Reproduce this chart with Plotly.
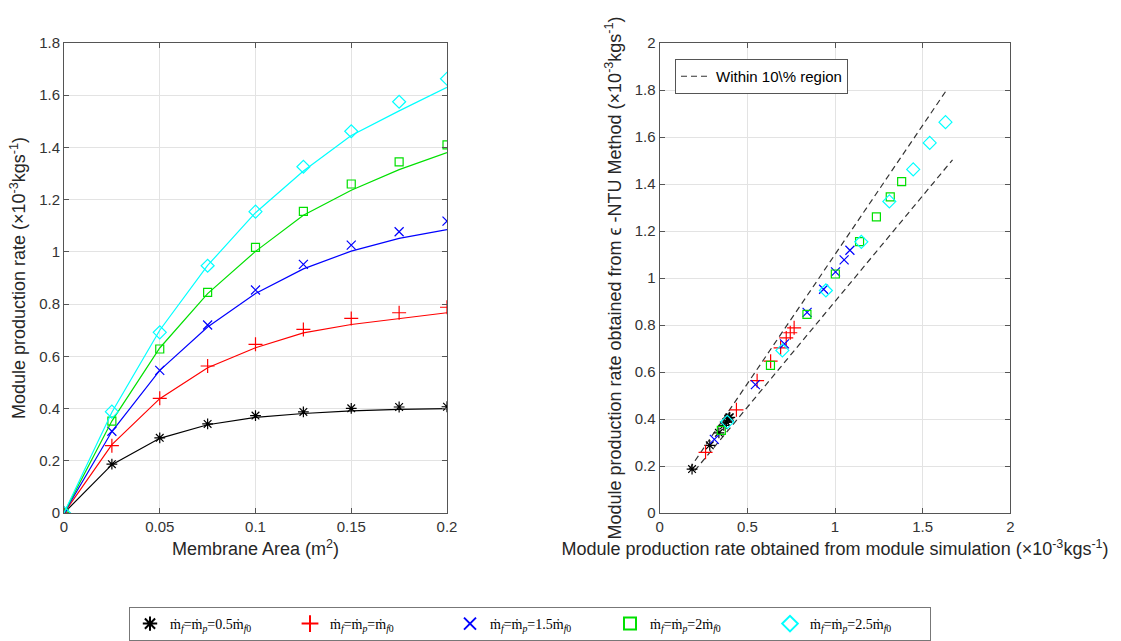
import plotly.graph_objects as go

# Membrane area (m^2)
area = [0, 0.025, 0.05, 0.075, 0.1, 0.125, 0.15, 0.175, 0.2]

# Module production rate from the module simulation (x1e-3 kg/s), drawn as lines
sim_05 = [0, 0.185, 0.286, 0.338, 0.366, 0.381, 0.391, 0.397, 0.400]
sim_10 = [0, 0.262, 0.438, 0.556, 0.633, 0.690, 0.722, 0.745, 0.767]
sim_15 = [0, 0.312, 0.546, 0.712, 0.841, 0.935, 1.003, 1.052, 1.085]
sim_20 = [0, 0.352, 0.632, 0.840, 1.002, 1.140, 1.236, 1.315, 1.380]
sim_25 = [0, 0.386, 0.700, 0.948, 1.150, 1.310, 1.446, 1.540, 1.630]

# Module production rate from the epsilon-NTU method (x1e-3 kg/s), drawn as markers
ntu_05 = [0, 0.187, 0.288, 0.341, 0.373, 0.387, 0.401, 0.406, 0.407]
ntu_10 = [0, 0.258, 0.439, 0.563, 0.646, 0.703, 0.745, 0.767, 0.788]
ntu_15 = [0, 0.313, 0.546, 0.720, 0.854, 0.952, 1.026, 1.077, 1.118]
ntu_20 = [0, 0.352, 0.628, 0.845, 1.017, 1.155, 1.260, 1.345, 1.410]
ntu_25 = [0, 0.388, 0.692, 0.947, 1.154, 1.326, 1.462, 1.575, 1.663]

series_labels = [
    "ṁ<sub><i>f</i></sub>=ṁ<sub><i>p</i></sub>=0.5ṁ<sub><i>f</i>0</sub>",
    "ṁ<sub><i>f</i></sub>=ṁ<sub><i>p</i></sub>=ṁ<sub><i>f</i>0</sub>",
    "ṁ<sub><i>f</i></sub>=ṁ<sub><i>p</i></sub>=1.5ṁ<sub><i>f</i>0</sub>",
    "ṁ<sub><i>f</i></sub>=ṁ<sub><i>p</i></sub>=2ṁ<sub><i>f</i>0</sub>",
    "ṁ<sub><i>f</i></sub>=ṁ<sub><i>p</i></sub>=2.5ṁ<sub><i>f</i>0</sub>",
]
colors = ["#000000", "#ff0000", "#0000ff", "#00e000", "#00ffff"]
symbols = ["asterisk-open", "cross-thin-open", "x-thin-open", "square-open", "diamond-open"]
sizes = [9, 10, 9, 8, 10]

# +/-10% band for the parity plot
upper_x = [0.17, 1.64]
lower_x = [0.20, 1.67]
band = 0.10

sims = [sim_05, sim_10, sim_15, sim_20, sim_25]
ntus = [ntu_05, ntu_10, ntu_15, ntu_20, ntu_25]

fig = go.Figure()

for sim, ntu, lab, c, s, sz in zip(sims, ntus, series_labels, colors, symbols, sizes):
    fig.add_trace(go.Scatter(
        x=area, y=sim, mode="lines", line=dict(color=c, width=1.2),
        showlegend=False, xaxis="x", yaxis="y", hoverinfo="skip"))
    fig.add_trace(go.Scatter(
        x=area, y=ntu, mode="markers", name=lab,
        marker=dict(symbol=s, color=c, size=sz, line=dict(color=c, width=1.2)),
        xaxis="x", yaxis="y", legend="legend"))

# Dashed band lines
fig.add_trace(go.Scatter(
    x=upper_x + [None] + lower_x,
    y=[v * (1 + band) for v in upper_x] + [None] + [v * (1 - band) for v in lower_x],
    mode="lines", line=dict(color="#333333", width=1.2, dash="6px,4px"),
    name="Within 10\\% region", xaxis="x2", yaxis="y2", legend="legend2"))

for sim, ntu, c, s, sz in zip(sims, ntus, colors, symbols, sizes):
    fig.add_trace(go.Scatter(
        x=sim[1:], y=ntu[1:], mode="markers", showlegend=False,
        marker=dict(symbol=s, color=c, size=sz, line=dict(color=c, width=1.2)),
        xaxis="x2", yaxis="y2"))

W, H = 1121, 641
axis_common = dict(
    showline=True, linecolor="#555555", linewidth=1, mirror="ticks",
    ticks="inside", ticklen=5, tickcolor="#555555",
    showgrid=True, gridcolor="#e3e3e3", gridwidth=1, zeroline=False,
    tickfont=dict(family="Liberation Sans, Arial", size=15, color="#333333"),
)
title_font = dict(family="Liberation Sans, Arial", size=18, color="#262626")

fig.update_layout(
    width=W, height=H,
    margin=dict(l=0, r=0, t=43, b=128, autoexpand=False),
    paper_bgcolor="white", plot_bgcolor="white",
    font=dict(family="Liberation Sans, Arial", color="#262626"),
    xaxis=dict(domain=[64 / W, 447 / W], range=[0, 0.2], dtick=0.05,
               title=dict(text="Membrane Area (m<sup>2</sup>)", font=title_font, standoff=8),
               anchor="y", **axis_common),
    yaxis=dict(domain=[0, 1], range=[0, 1.8], dtick=0.2,
               title=dict(text="Module production rate (×10<sup>-3</sup>kgs<sup>-1</sup>)",
                          font=title_font, standoff=8),
               anchor="x", **axis_common),
    xaxis2=dict(domain=[659.6 / W, 1010.4 / W], range=[0, 2], dtick=0.5,
                title=dict(text="Module production rate obtained from module simulation (×10<sup>-3</sup>kgs<sup>-1</sup>)",
                           font=title_font, standoff=8),
                anchor="y2", **axis_common),
    yaxis2=dict(domain=[0, 1], range=[0, 2], dtick=0.2,
                title=dict(text="Module production rate obtained from ϵ -NTU Method (×10<sup>-3</sup>kgs<sup>-1</sup>)",
                           font=title_font, standoff=8),
                anchor="x2", **axis_common),
    legend=dict(
        orientation="h", x=530 / W, xanchor="center", y=-0.200, yanchor="top",
        bordercolor="#777777", borderwidth=1, bgcolor="white",
        font=dict(family="Liberation Serif, DejaVu Serif, serif", size=14, color="#000000"),
        entrywidth=115, entrywidthmode="pixels", itemsizing="constant",
        tracegroupgap=0,
    ),
    legend2=dict(
        x=675 / W, xanchor="left", y=0.966, yanchor="top",
        bordercolor="#555555", borderwidth=1, bgcolor="white",
        font=dict(family="Liberation Sans, Arial", size=15, color="#000000"),
    ),
)

fig.write_html("out.html")
